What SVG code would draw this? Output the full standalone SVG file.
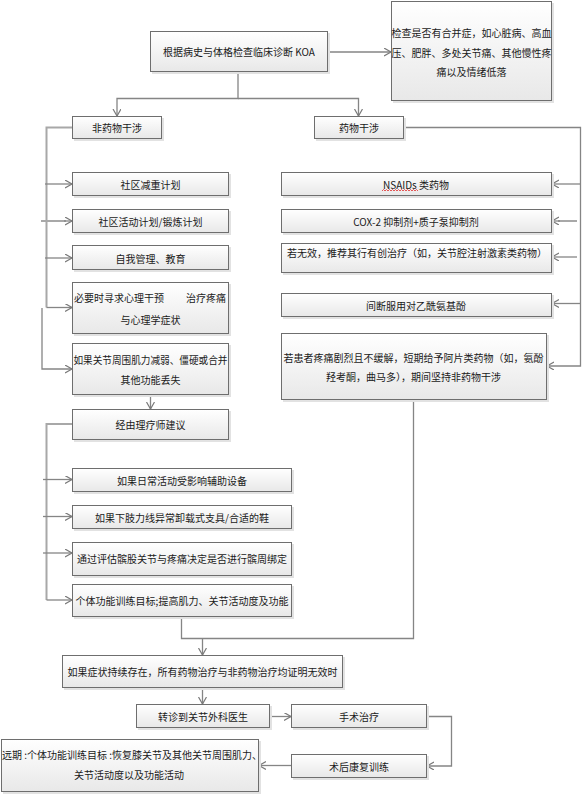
<svg xmlns="http://www.w3.org/2000/svg" width="582" height="795" viewBox="0 0 582 795">
<defs>
<linearGradient id="g" x1="0" y1="0" x2="0" y2="1">
<stop offset="0" stop-color="#ffffff"/>
<stop offset="1" stop-color="#e8e8e8"/>
</linearGradient>
<marker id="a" markerUnits="userSpaceOnUse" markerWidth="10" markerHeight="10" refX="7" refY="4" orient="auto">
<path d="M0,0 L7,4 L0,8" fill="none" stroke="#7a7a7a" stroke-width="1.2"/>
</marker>
</defs>
<style>
.box{fill:url(#g);stroke:#6e6e6e;stroke-width:1}
.sh{fill:#e2e2e2}
text{font-family:"Noto Sans CJK SC","Noto Sans",sans-serif;font-size:10px;fill:#1a1a1a;dominant-baseline:central}
.c{text-anchor:middle}
.e{text-anchor:end}
.ln{fill:none;stroke:#858585;stroke-width:1.3}
.lt{fill:none;stroke:#a8a8a8;stroke-width:2}
</style>
<g id="connectors">
<path class="ln" d="M328,52 H391" marker-end="url(#a)"/>
<path class="ln" d="M238,72 V98.5 H117 V116" marker-end="url(#a)"/>
<path class="ln" d="M238,98.5 H358.5 V116" marker-end="url(#a)"/>
<path class="lt" d="M72,127.5 H46.5 V307.5"/>
<path class="ln" d="M46.5,307.5 H72" marker-end="url(#a)"/>
<path class="ln" d="M45,184 H72" marker-end="url(#a)"/>
<path class="lt" d="M41,221 H66"/>
<path class="ln" d="M64,221 H72" marker-end="url(#a)"/>
<path class="ln" d="M45,258 H72" marker-end="url(#a)"/>
<path class="ln" d="M42,308 V369 H72" marker-end="url(#a)"/>
<path class="ln" d="M150.5,395 V409" marker-end="url(#a)"/>
<path class="lt" d="M72,424 H46.5 V600"/>
<path class="ln" d="M46.5,600 H72" marker-end="url(#a)"/>
<path class="ln" d="M43,479.5 H72" marker-end="url(#a)"/>
<path class="ln" d="M43,516.5 H72" marker-end="url(#a)"/>
<path class="ln" d="M43,553 H72" marker-end="url(#a)"/>
<path class="ln" d="M404,127.5 H580.5 V366 H547" marker-end="url(#a)"/>
<path class="ln" d="M580.5,184 H552" marker-end="url(#a)"/>
<path class="lt" d="M577,221 H558"/>
<path class="ln" d="M560,221 H552" marker-end="url(#a)"/>
<path class="ln" d="M577,257 H552" marker-end="url(#a)"/>
<path class="ln" d="M580.5,303.5 H552" marker-end="url(#a)"/>
<path class="ln" d="M413.5,400 V638.5 H181.5 V617"/>
<path class="ln" d="M202.5,638.5 V655" marker-end="url(#a)"/>
<path class="ln" d="M202.5,688 V704" marker-end="url(#a)"/>
<path class="ln" d="M270,716.5 H291" marker-end="url(#a)"/>
<path class="ln" d="M427,716.5 H451.5 V766 H427" marker-end="url(#a)"/>
<path class="ln" d="M291,765.5 H259" marker-end="url(#a)"/>
</g>
<g id="n_diag"><rect class="sh" x="152" y="33" width="178" height="41"/><rect class="box" x="150.5" y="31.5" width="177" height="40"/><text class="c" x="239" y="51.5">根据病史与体格检查临床诊断 KOA</text></g>
<g id="n_comorb"><rect class="sh" x="393" y="3" width="161" height="100"/><rect class="box" x="391.5" y="1.5" width="160" height="99"/><text class="c" x="471.5" y="32">检查是否有合并症，如心脏病、高血</text><text class="c" x="471.5" y="52">压、肥胖、多处关节痛、其他慢性疼</text><text class="c" x="471.5" y="71.5">痛以及情绪低落</text></g>
<g id="n_nondrug"><rect class="sh" x="74" y="118" width="90" height="23"/><rect class="box" x="72.5" y="116.5" width="89" height="22"/><text class="c" x="117" y="127.5">非药物干涉</text></g>
<g id="n_drug"><rect class="sh" x="316" y="118" width="90" height="23"/><rect class="box" x="314.5" y="116.5" width="89" height="22"/><text class="c" x="359" y="127.5">药物干涉</text></g>
<g id="n_weight"><rect class="sh" x="74" y="174" width="157" height="24"/><rect class="box" x="72.5" y="172.5" width="156" height="23"/><text class="c" x="150.5" y="184">社区减重计划</text></g>
<g id="n_activity"><rect class="sh" x="74" y="211" width="157" height="24"/><rect class="box" x="72.5" y="209.5" width="156" height="23"/><text class="c" x="150.5" y="221">社区活动计划/锻炼计划</text></g>
<g id="n_self"><rect class="sh" x="74" y="247" width="157" height="25"/><rect class="box" x="72.5" y="245.5" width="156" height="24"/><text class="c" x="150.5" y="258">自我管理、教育</text></g>
<g id="n_psych"><rect class="sh" x="74" y="284" width="157" height="52"/><rect class="box" x="72.5" y="282.5" width="156" height="51"/><text x="74" y="297">必要时寻求心理干预</text><text class="e" x="226" y="297">治疗疼痛</text><text class="c" x="150.5" y="319">与心理学症状</text></g>
<g id="n_muscle"><rect class="sh" x="74" y="345" width="157" height="52"/><rect class="box" x="72.5" y="343.5" width="156" height="51"/><text class="c" x="150.5" y="359" textLength="154" lengthAdjust="spacingAndGlyphs">如果关节周围肌力减弱、僵硬或合并</text><text class="c" x="150.5" y="379">其他功能丢失</text></g>
<g id="n_pt"><rect class="sh" x="74" y="411" width="157" height="31"/><rect class="box" x="72.5" y="409.5" width="156" height="30"/><text class="c" x="150.5" y="424">经由理疗师建议</text></g>
<g id="n_daily"><rect class="sh" x="74" y="470" width="220" height="24"/><rect class="box" x="72.5" y="468.5" width="219" height="23"/><text class="c" x="182" y="480">如果日常活动受影响辅助设备</text></g>
<g id="n_brace"><rect class="sh" x="74" y="507" width="220" height="24"/><rect class="box" x="72.5" y="505.5" width="219" height="23"/><text class="c" x="182" y="517">如果下肢力线异常卸载式支具/合适的鞋</text></g>
<g id="n_taping"><rect class="sh" x="74" y="544" width="220" height="34"/><rect class="box" x="72.5" y="542.5" width="219" height="33"/><text class="c" x="182" y="558.5">通过评估髌股关节与疼痛决定是否进行髌周绑定</text></g>
<g id="n_train"><rect class="sh" x="74" y="586" width="220" height="33"/><rect class="box" x="72.5" y="584.5" width="219" height="32"/><text class="c" x="182" y="600">个体功能训练目标;提高肌力、关节活动度及功能</text></g>
<g id="n_nsaid"><rect class="sh" x="283" y="174" width="271" height="24"/><rect class="box" x="281.5" y="172.5" width="270" height="23"/><text class="c" x="416" y="184">NSAIDs 类药物</text><path d="M382,191 l1.5,-1.5 l1.5,1.5 l1.5,-1.5 l1.5,1.5 l1.5,-1.5 l1.5,1.5 l1.5,-1.5 l1.5,1.5 l1.5,-1.5 l1.5,1.5 l1.5,-1.5 l1.5,1.5 l1.5,-1.5 l1.5,1.5 l1.5,-1.5 l1.5,1.5 l1.5,-1.5 l1.5,1.5 l1.5,-1.5 l1.5,1.5 l1.5,-1.5 l1.5,1.5 l1.5,-1.5 l1.5,1.5" fill="none" stroke="#e03030" stroke-width="0.8"/></g>
<g id="n_cox"><rect class="sh" x="283" y="211" width="271" height="24"/><rect class="box" x="281.5" y="209.5" width="270" height="23"/><text class="c" x="416" y="221">COX-2 抑制剂+质子泵抑制剂</text></g>
<g id="n_invasive"><rect class="sh" x="283" y="245" width="271" height="30"/><rect class="box" x="281.5" y="243.5" width="270" height="29"/><text x="287" y="252">若无效，推荐其行有创治疗（如，关节腔注射激素类药物）</text></g>
<g id="n_apap"><rect class="sh" x="283" y="295" width="271" height="24"/><rect class="box" x="281.5" y="293.5" width="270" height="23"/><text class="c" x="416" y="305">间断服用对乙酰氨基酚</text></g>
<g id="n_opioid"><rect class="sh" x="283" y="335" width="266" height="67"/><rect class="box" x="281.5" y="333.5" width="265" height="66"/><text class="c" x="413.5" y="357">若患者疼痛剧烈且不缓解，短期给予阿片类药物（如，氨酚</text><text class="c" x="413.5" y="376">羟考酮，曲马多），期间坚持非药物干涉</text></g>
<g id="n_persist"><rect class="sh" x="64" y="657" width="281" height="33"/><rect class="box" x="62.5" y="655.5" width="280" height="32"/><text class="c" x="202.5" y="671.5">如果症状持续存在，所有药物治疗与非药物治疗均证明无效时</text></g>
<g id="n_refer"><rect class="sh" x="138" y="706" width="134" height="24"/><rect class="box" x="136.5" y="704.5" width="133" height="23"/><text class="c" x="203" y="716">转诊到关节外科医生</text></g>
<g id="n_surgery"><rect class="sh" x="293" y="706" width="136" height="24"/><rect class="box" x="291.5" y="704.5" width="135" height="23"/><text class="c" x="359" y="716">手术治疗</text></g>
<g id="n_rehab"><rect class="sh" x="293" y="756" width="136" height="24"/><rect class="box" x="291.5" y="754.5" width="135" height="23"/><text class="c" x="359" y="766">术后康复训练</text></g>
<g id="n_longterm"><rect class="sh" x="3" y="741" width="258" height="53"/><rect class="box" x="1.5" y="739.5" width="257" height="52"/><text x="2" y="754.5">远期 :个体功能训练目标 :恢复膝关节及其他关节周围肌力、</text><text class="c" x="129" y="774">关节活动度以及功能活动</text></g>
</svg>
